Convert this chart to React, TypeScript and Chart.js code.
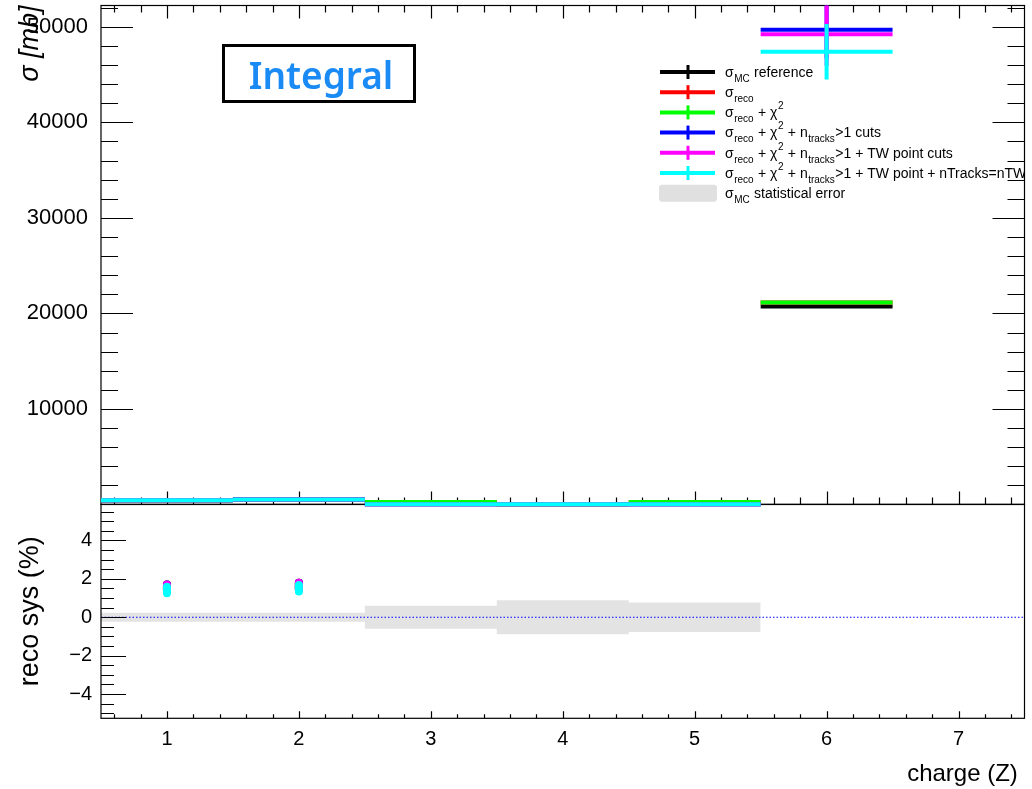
import React, { useEffect, useRef } from 'react';
import { Chart, registerables } from 'chart.js';
Chart.register(...registerables);

// ---------- data ----------
const Z = [1, 2, 3, 4, 5, 6];
const sigmaMC = [440, 520, 30, 20, 30, 20730];
const sigmaReco = [445, 528, 260, 20, 260, 21150];
const sigmaChi2 = [445, 528, 260, 20, 260, 21150];
const sigmaNtracks = [447, 528, 30, 20, 30, 49700];
const sigmaTW = [447, 528, 30, 20, 30, 49230];
const sigmaNTW = [446, 527, 30, 20, 30, 47390];
const errMC = [8, 8, 4, 4, 4, 120];
const errReco = [8, 8, 20, 4, 20, 150];
const errNtracks = [8, 8, 4, 4, 4, 3000];
const errTW = [8, 8, 4, 4, 4, 3300];
const errNTW = [8, 8, 4, 4, 4, 2900];

// relative systematic (%) in the ratio panel
const sysReco = [1.54, 1.63, null, null, null, null];
const sysChi2 = [1.54, 1.63, null, null, null, null];
const sysNtracks = [1.54, 1.63, null, null, null, null];
const sysTW = [1.54, 1.63, null, null, null, null];
const sysNTW = [1.42, 1.51, null, null, null, null];
const sysErr = [0.17, 0.17, 0, 0, 0, 0];
const statErrPct = [0.23, 0.23, 0.6, 0.88, 0.77, 0];

const yTopTicks = [10000, 20000, 30000, 40000, 50000];
const yBottomTicks = [-4, -2, 0, 2, 4];
const xTicks = [1, 2, 3, 4, 5, 6, 7];

const seriesColors = ['#000000', '#ff0000', '#00ff00', '#0000ff', '#ff00ff', '#00ffff'];
const bandColor = '#e3e3e3';

const legendLabels: [string, number][][] = [
  [['σ', 0], ['MC', 1], [' reference', 0]],
  [['σ', 0], ['reco', 1]],
  [['σ', 0], ['reco', 1], [' + χ', 0], ['2', 2]],
  [['σ', 0], ['reco', 1], [' + χ', 0], ['2', 2], [' + n', 0], ['tracks', 1], ['>1 cuts', 0]],
  [['σ', 0], ['reco', 1], [' + χ', 0], ['2', 2], [' + n', 0], ['tracks', 1], ['>1 + TW point cuts', 0]],
  [['σ', 0], ['reco', 1], [' + χ', 0], ['2', 2], [' + n', 0], ['tracks', 1], ['>1 + TW point + nTracks=nTW', 0]],
  [['σ', 0], ['MC', 1], [' statistical error', 0]],
];
const legendColors = [...seriesColors, '#e0e0e0'];

const FONT = '"Liberation Sans", Arial, sans-serif';

// ---------- helpers ----------
function histSegments(values: number[], errs: number[]) {
  const pts: { x: number; y: number | null }[] = [];
  Z.forEach((z, i) => {
    const v = values[i];
    pts.push({ x: z - 0.5, y: v }, { x: z + 0.5, y: v }, { x: z + 0.5, y: null });
    if (errs[i] > 0) pts.push({ x: z, y: v - errs[i] }, { x: z, y: v + errs[i] }, { x: z, y: null });
  });
  return pts;
}
function errPoints(values: (number | null)[], errs: number[]) {
  const pts: { x: number; y: number | null }[] = [];
  Z.forEach((z, i) => {
    const v = values[i];
    if (v == null) return;
    pts.push({ x: z, y: v - errs[i] }, { x: z, y: v + errs[i] }, { x: z, y: null });
  });
  return pts;
}
function bandPoints(sign: number) {
  const pts: { x: number; y: number }[] = [];
  let last = 0;
  let lastZ = 0;
  Z.forEach((z, i) => {
    if (statErrPct[i] > 0) {
      pts.push({ x: z - 0.5, y: sign * statErrPct[i] });
      last = statErrPct[i];
      lastZ = z;
    }
  });
  pts.push({ x: lastZ + 0.5, y: sign * last });
  return pts;
}

function fixScale(s: any, w?: number, h?: number) {
  if (w !== undefined) s.width = w;
  if (h !== undefined) s.height = h;
  s.paddingTop = 0;
  s.paddingBottom = 0;
  s.paddingLeft = 0;
  s.paddingRight = 0;
}

const rootFrame = {
  id: 'rootFrame',
  afterDraw(chart: any, _args: any, o: any) {
    const { ctx, chartArea: a, scales } = chart;
    const xs = scales.x, ys = scales.y;
    ctx.save();
    ctx.strokeStyle = '#000';
    ctx.lineWidth = 1.2;
    ctx.strokeRect(a.left, a.top, a.right - a.left, a.bottom - a.top);
    ctx.beginPath();
    const k0 = Math.ceil(ys.min / o.yMinor - 1e-9), k1 = Math.floor(ys.max / o.yMinor + 1e-9);
    for (let k = k0; k <= k1; k++) {
      const v = k * o.yMinor;
      if (Math.abs(v - ys.min) < 1e-9 || Math.abs(v - ys.max) < 1e-9) continue;
      const maj = Math.abs(v / o.yMajor - Math.round(v / o.yMajor)) < 1e-6;
      const len = maj ? o.yMajLen : o.yMinLen;
      const py = Math.round(ys.getPixelForValue(v)) + 0.5;
      ctx.moveTo(a.left, py); ctx.lineTo(a.left + len, py);
      if (o.yRight) { ctx.moveTo(a.right, py); ctx.lineTo(a.right - len, py); }
    }
    const j0 = Math.ceil(xs.min / o.xMinor - 1e-9), j1 = Math.floor(xs.max / o.xMinor + 1e-9);
    for (let j = j0; j <= j1; j++) {
      const v = j * o.xMinor;
      const maj = Math.abs(v - Math.round(v)) < 1e-6;
      const len = maj ? o.xMajLen : o.xMinLen;
      const px = Math.round(xs.getPixelForValue(v)) + 0.5;
      if (o.xBottom) { ctx.moveTo(px, a.bottom); ctx.lineTo(px, a.bottom - len); }
      if (o.xTop) { ctx.moveTo(px, a.top); ctx.lineTo(px, a.top + len); }
    }
    ctx.stroke();
    ctx.restore();
  },
};

const decorations = {
  id: 'decorations',
  afterDraw(chart: any) {
    const ctx = chart.ctx;
    ctx.save();
    // Integral box
    ctx.fillStyle = '#fff';
    ctx.fillRect(223.5, 45.5, 191, 56);
    ctx.strokeStyle = '#000';
    ctx.lineWidth = 3;
    ctx.strokeRect(223.5, 45.5, 191, 56);
    ctx.fillStyle = '#1a8af5';
    ctx.font = '600 37px "Noto Sans", "Open Sans", sans-serif';
    ctx.textAlign = 'center';
    ctx.textBaseline = 'alphabetic';
    ctx.fillText('Integral', 321, 89);

    // legend
    ctx.beginPath();
    ctx.rect(0, 0, 1025, 789);
    ctx.clip();
    ctx.textAlign = 'left';
    legendLabels.forEach((parts, i) => {
      const ry = 72 + i * 20.2;
      const col = legendColors[i];
      if (i === 6) {
        ctx.fillStyle = col;
        ctx.beginPath();
        ctx.roundRect(659, ry - 8.5, 58, 17, 3);
        ctx.fill();
      } else {
        ctx.strokeStyle = col;
        ctx.lineWidth = 4;
        ctx.beginPath();
        ctx.moveTo(660, ry); ctx.lineTo(715, ry);
        ctx.stroke();
        ctx.lineWidth = 3;
        ctx.beginPath();
        ctx.moveTo(688, ry - 7); ctx.lineTo(688, ry + 7);
        ctx.stroke();
      }
      let x = 725;
      const base = ry + 4.7;
      ctx.fillStyle = '#000';
      parts.forEach(([t, kind]) => {
        if (kind === 0) { ctx.font = `14px ${FONT}`; ctx.fillText(t, x, base); }
        else if (kind === 1) { ctx.font = `10px ${FONT}`; ctx.fillText(t, x + 0.5, base + 5); }
        else { ctx.font = `10px ${FONT}`; ctx.fillText(t, x + 0.5, base - 8); }
        x += ctx.measureText(t).width + (kind ? 1 : 0);
      });
    });
    ctx.restore();
  },
};

export default function App() {
  const topRef = useRef<HTMLCanvasElement>(null);
  const botRef = useRef<HTMLCanvasElement>(null);

  useEffect(() => {
    const seriesVals = [sigmaMC, sigmaReco, sigmaChi2, sigmaNtracks, sigmaTW, sigmaNTW];
    const seriesErrs = [errMC, errReco, errReco, errNtracks, errTW, errNTW];
    const topDatasets: any[] = seriesVals.map((vals, i) => ({
      type: 'line',
      data: histSegments(vals, seriesErrs[i]),
      borderColor: seriesColors[i],
      borderWidth: 4,
      pointRadius: 0,
      spanGaps: false,
      order: 6 - i,
      clip: { left: 0, top: 0, right: 0, bottom: 3 },
    }));

    const topFramePlugin = {
      id: 'topFrameFirst',
      beforeDatasetsDraw: (chart: any, a: any, o: any) => rootFrame.afterDraw(chart, a, chart.options.plugins.rootFrame),
    };

    const top = new Chart(topRef.current!, {
      type: 'line',
      data: { datasets: topDatasets },
      options: {
        animation: false,
        responsive: false,
        devicePixelRatio: 1,
        layout: { padding: { top: 5.5, bottom: 7.5, right: 7.5, left: 0 } },
        plugins: { legend: { display: false }, tooltip: { enabled: false }, rootFrame: {
          yMajor: 10000, yMinor: 2000, yMajLen: 32, yMinLen: 17, yRight: true,
          xMinor: 0.2, xMajLen: 13, xMinLen: 7, xTop: true, xBottom: true,
        } } as any,
        scales: {
          x: { type: 'linear', min: 0.5, max: 7.5, display: false, afterFit: (s: any) => fixScale(s) },
          y: {
            type: 'linear', min: 0, max: 52230,
            afterFit: (s: any) => fixScale(s, 101),
            grid: { display: false, drawTicks: false },
            border: { display: false },
            afterBuildTicks: (s: any) => { s.ticks = yTopTicks.map((v) => ({ value: v })); },
            ticks: { padding: 13, color: '#000', font: { family: FONT, size: 22 },
              callback: (v: any) => String(v) },
            title: { display: true, text: 'σ [mb]', align: 'end', color: '#000',
              font: { family: FONT, size: 27, style: 'italic' }, padding: { top: 14, bottom: 0 } },
          },
        },
      },
      plugins: [topFramePlugin, decorations],
    });

    const sysVals = [sysReco, sysChi2, sysNtracks, sysTW, sysNTW];
    const botDatasets: any[] = [
      { type: 'line', data: bandPoints(1), stepped: 'before', borderWidth: 0, pointRadius: 0,
        backgroundColor: bandColor, fill: false, order: 20 },
      { type: 'line', data: bandPoints(-1), stepped: 'before', borderWidth: 0, pointRadius: 0,
        backgroundColor: bandColor, fill: '-1', order: 20 },
      { type: 'line', data: [{ x: 0.5, y: 0 }, { x: 7.5, y: 0 }], borderColor: '#0000ff', borderWidth: 1,
        borderDash: [1.5, 2], pointRadius: 0, order: 10 },
      ...sysVals.map((vals, i) => ({
        type: 'line', data: errPoints(vals, sysErr), borderColor: seriesColors[i + 1], borderWidth: 8,
        borderCapStyle: 'round', pointRadius: 0, spanGaps: false, order: 5 - i,
      })),
    ];

    const bot = new Chart(botRef.current!, {
      type: 'line',
      data: { datasets: botDatasets },
      options: {
        animation: false,
        responsive: false,
        devicePixelRatio: 1,
        layout: { padding: { top: 8.3, bottom: 0, right: 7.5, left: 0 } },
        plugins: { legend: { display: false }, tooltip: { enabled: false }, rootFrame: {
          yMajor: 2, yMinor: 0.5, yMajLen: 25, yMinLen: 13, yRight: false,
          xMinor: 0.2, xMajLen: 7, xMinLen: 4, xTop: false, xBottom: true,
        } } as any,
        scales: {
          x: {
            type: 'linear', min: 0.5, max: 7.5,
            afterFit: (s: any) => fixScale(s, undefined, 70.7),
            grid: { display: false, drawTicks: false },
            border: { display: false },
            afterBuildTicks: (s: any) => { s.ticks = xTicks.map((v) => ({ value: v })); },
            ticks: { padding: 9, color: '#000', maxRotation: 0, font: { family: FONT, size: 20 } },
            title: { display: true, text: 'charge (Z) ', align: 'end', color: '#000',
              font: { family: FONT, size: 24 }, padding: { top: 0, bottom: 0 } },
          },
          y: {
            type: 'linear', min: -5.26, max: 5.88,
            afterFit: (s: any) => fixScale(s, 101),
            grid: { display: false, drawTicks: false },
            border: { display: false },
            afterBuildTicks: (s: any) => { s.ticks = yBottomTicks.map((v) => ({ value: v })); },
            ticks: { padding: 9, color: '#000', font: { family: FONT, size: 20 },
              callback: (v: any) => (v < 0 ? '\u2212' + Math.abs(v) : String(v)) },
            title: { display: true, text: 'reco sys (%)', align: 'center', color: '#000',
              font: { family: FONT, size: 27 }, padding: { top: 14, bottom: 0 } },
          },
        },
      },
      plugins: [rootFrame],
    });

    return () => { top.destroy(); bot.destroy(); };
  }, []);

  return (
    <div style={{ position: 'absolute', left: 0, top: 0, width: 1032, height: 789, background: '#fff' }}>
      <canvas ref={botRef} width={1032} height={293} style={{ position: 'absolute', left: 0, top: 496 }} />
      <canvas ref={topRef} width={1032} height={512} style={{ position: 'absolute', left: 0, top: 0 }} />
    </div>
  );
}
